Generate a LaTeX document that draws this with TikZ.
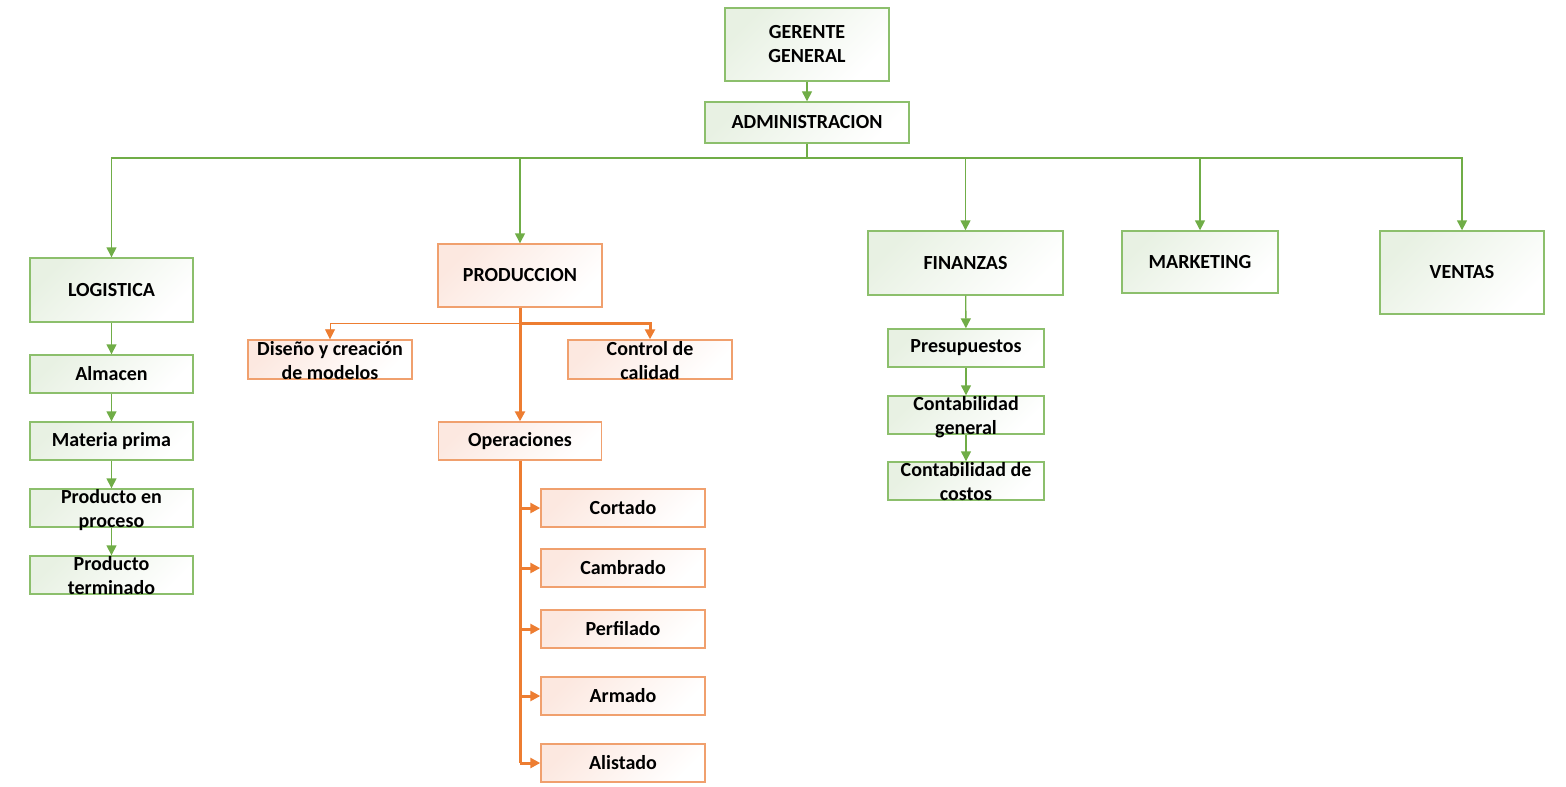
\documentclass[tikz,border=0pt]{standalone}
\usepackage{fontspec}
\setmainfont{Carlito}
\usetikzlibrary{arrows.meta}
\definecolor{grline}{RGB}{112,173,71}
\definecolor{grbox}{RGB}{140,191,108}
\definecolor{grfill}{RGB}{232,241,227}
\definecolor{orline}{RGB}{237,125,49}
\definecolor{orbox}{RGB}{240,160,110}
\definecolor{orfill}{RGB}{252,232,224}
\newcommand{\twoln}[2]{\smash{\raisebox{-4pt}{\begin{tabular}{@{}c@{}}#1\\#2\end{tabular}}}}
\begin{document}
\begin{tikzpicture}[x=0.5pt,y=-0.5pt,
	gbox/.style={draw=grbox, line width=0.7pt, top color=grfill, bottom color=white, shading angle=45, inner sep=0pt, align=center, font=\fontsize{10}{12}\selectfont\bfseries},
	obox/.style={gbox, draw=orbox, top color=orfill, bottom color=white, shading angle=45},
	gsub/.style={gbox, minimum width=81.5pt, minimum height=19pt},
	fsub/.style={gbox, minimum width=78pt, minimum height=19pt},
	osub/.style={obox, minimum width=82pt, minimum height=19pt},
	garr/.style={draw=grline, line width=0.7pt, -{Triangle[length=5pt,width=5pt]}},
	othin/.style={draw=orline, line width=0.4pt, -{Triangle[length=5pt,width=5pt]}},
	othick/.style={draw=orline, line width=1.5pt},
	oarr/.style={othick, -{Triangle[length=5pt,width=5pt]}}]
	\useasboundingbox (0,0) rectangle (1566,786);
	\draw (807,44.5) node[gbox, minimum width=82pt, minimum height=36.5pt] (gg) {GERENTE\\GENERAL};
	\draw (807,122.5) node[gbox, minimum width=102pt, minimum height=20.5pt] (adm) {ADMINISTRACION};
	\coordinate (bus) at (807,158);
	% areas
	\draw (111.5,290) node[gbox, minimum width=81.5pt, minimum height=32pt] (log) {LOGISTICA};
	\draw (520,275.5) node[obox, minimum width=82pt, minimum height=31.5pt] (prod) {PRODUCCION};
	\draw (965.5,263) node[gbox, minimum width=97.5pt, minimum height=32pt] (fin) {FINANZAS};
	\draw (1200,262) node[gbox, minimum width=78pt, minimum height=31pt] (mkt) {MARKETING};
	\draw (1462,272.5) node[gbox, minimum width=82pt, minimum height=41.5pt] (ven) {VENTAS};
	% logistica
	\draw (111.5,374) node[gsub] (alm) {Almacen};
	\draw (111.5,441) node[gsub] (mat) {Materia prima};
	\draw (111.5,508) node[gsub] (pep) {\twoln{Producto en}{proceso}};
	\draw (111.5,575) node[gsub] (pter) {\twoln{Producto}{terminado}};
	% produccion
	\draw (330,359.5) node[osub, minimum height=19.5pt] (dis) {\twoln{Diseño y creación}{de modelos}};
	\draw (650,359.5) node[osub, minimum height=19.5pt] (cal) {\twoln{Control de}{calidad}};
	\draw (520,441) node[osub, minimum width=81.5pt] (ope) {Operaciones};
	\coordinate (pj) at (520,323);
	\draw (623,508) node[osub] (cor) {Cortado};
	\draw (623,568) node[osub] (cam) {Cambrado};
	\draw (623,629) node[osub] (per) {Perfilado};
	\draw (623,696) node[osub] (arm) {Armado};
	\draw (623,763) node[osub] (ali) {Alistado};
	% finanzas
	\draw (966,348) node[fsub] (pre) {Presupuestos};
	\draw (966,415) node[fsub] (cg) {\twoln{Contabilidad}{general}};
	\draw (966,481) node[fsub] (cc) {\twoln{Contabilidad de}{costos}};
	% conectores
	\draw[garr] (gg) -- (adm);
	\draw[draw=grline, line width=0.7pt] (adm) -- (bus);
	\draw[garr] (bus) -| (log);
	\draw[garr] (bus) -| (prod);
	\draw[garr] (bus) -| (fin);
	\draw[garr] (bus) -| (mkt);
	\draw[garr] (bus) -| (ven);
	\draw[garr] (log) -- (alm);
	\draw[garr] (alm) -- (mat);
	\draw[garr] (mat) -- (pep);
	\draw[garr] (pep) -- (pter);
	\draw[garr] (fin) -- (pre);
	\draw[garr] (pre) -- (cg);
	\draw[garr] (cg) -- (cc);
	\draw[othin] (pj) -| (dis);
	\draw[oarr] (pj) -| (cal);
	\draw[oarr] (prod) -- (ope);
	\draw[othick] (ope) -- (ope |- ali);
	\draw[oarr] (ope |- cor) -- (cor);
	\draw[oarr] (ope |- cam) -- (cam);
	\draw[oarr] (ope |- per) -- (per);
	\draw[oarr] (ope |- arm) -- (arm);
	\draw[oarr] (ope |- ali) -- (ali);
\end{tikzpicture}
\end{document}
